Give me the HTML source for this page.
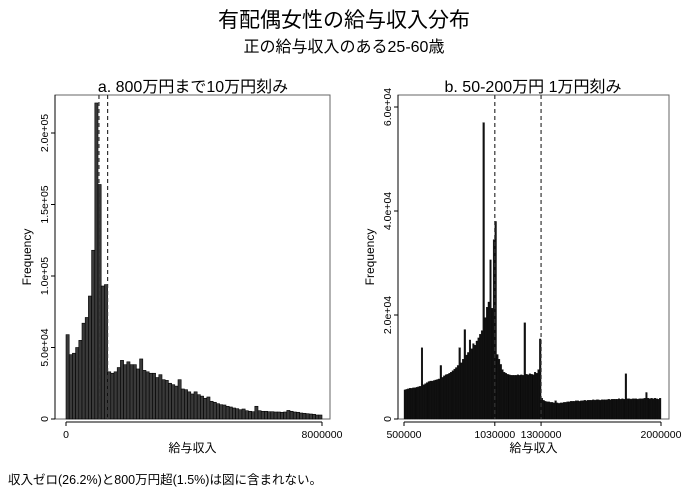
<!DOCTYPE html>
<html><head><meta charset="utf-8"><style>
body{margin:0;background:#fff;}
svg text{font-family:"Liberation Sans","Noto Sans CJK JP",sans-serif;fill:#000;}
</style></head><body>
<svg width="688" height="495" xmlns="http://www.w3.org/2000/svg">
<rect width="688" height="495" fill="#fff"/>
<text x="344" y="27" font-size="21" text-anchor="middle">有配偶女性の給与収入分布</text>
<text x="344" y="52" font-size="16" text-anchor="middle">正の給与収入のある25-60歳</text>
<text x="193" y="92" font-size="16" text-anchor="middle">a. 800万円まで10万円刻み</text>
<text x="533" y="92" font-size="16" text-anchor="middle">b. 50-200万円 1万円刻み</text>
<text x="8" y="484" font-size="12.5">収入ゼロ(26.2%)と800万円超(1.5%)は図に含まれない。</text>
<g id="left"></g>
<g id="right"></g>
</svg>
<script>
const leftValues=[59,45,46,50,55,67,71,86,118,221,164,93,94,33,32,33,36,41,38,40,38,38,35,42,34,33,32,32,29,31,27.5,27,25,24,23,27.5,21,20.5,19,17.5,19,17,16,14.5,15.4,12.4,11.7,10.7,10,9.8,8.9,8.4,7.7,7.2,6.5,7,5.8,5.4,5.1,8.9,5.8,5.4,5.4,5.1,5.1,4.9,4.9,4.7,4.9,6,5.4,4.9,4.7,4.2,4,3.7,3.5,3.3,2.8,2.8];
const leftTicks=[0,50000,100000,150000,200000];
const leftTickLabels=["0","5.0e+04","1.0e+05","1.5e+05","2.0e+05"];
const leftXTicks=[0,8000000];
const leftDashes=[1030000,1300000];
const rightValues=[5.6,5.7,5.8,5.9,5.9,6.0,6.0,6.1,6.2,6.3,13.7,6.6,6.8,7.0,7.2,7.3,7.3,7.4,7.5,7.6,7.7,10.3,8.0,8.3,8.5,8.6,8.8,9.0,9.3,9.6,9.9,10.3,13.7,10.8,11.5,17.2,12.3,12.8,15.2,13.5,14.5,14.2,15,15.6,16.3,17,57,19.5,21.5,22.5,30.6,21.3,34.5,38,12.4,11.5,10.5,9.5,9.0,8.8,8.6,8.5,8.4,8.4,8.4,8.4,8.5,8.4,8.5,8.4,18.5,8.6,8.5,8.7,8.6,8.5,9.0,8.8,9.5,15.4,4.0,3.6,3.4,3.3,3.3,3.2,3.2,3.1,3.5,3.1,3.0,3.1,3.1,3.2,3.2,3.3,3.3,3.4,3.4,3.4,3.5,3.5,3.4,3.5,3.5,3.6,3.5,3.6,3.6,3.6,3.7,3.6,3.7,3.7,3.6,3.7,3.7,3.7,3.7,3.8,3.7,3.8,3.8,3.8,3.8,3.9,3.8,3.9,3.8,8.7,3.9,3.9,3.8,3.9,3.9,3.9,3.8,3.9,3.9,3.9,4.0,5.1,4.0,3.9,4.0,3.9,4.0,3.9,3.8,4.0];
const rightTicks=[0,20000,40000,60000];
const rightTickLabels=["0","2.0e+04","4.0e+04","6.0e+04"];
const rightXTicks=[500000,1030000,1300000,2000000];
const rightDashes=[1030000,1300000];
const NS="http://www.w3.org/2000/svg";
function mk(p,t,a){const e=document.createElementNS(NS,t);for(const k in a)e.setAttribute(k,a[k]);p.appendChild(e);return e;}
function panel(g,o){
  const fr=mk(g,'rect',{x:o.fl,y:95,width:o.fr-o.fl,height:o.bottom-95,fill:'none',stroke:'#666','stroke-width':1});
  
  
  const xs=v=>o.x0+(v-o.v0)*o.xk, ys=v=>o.bottom-v*o.yk;
  o.vals.forEach((v,i)=>{
    const xa=xs(o.v0+i*o.bw), xb=xs(o.v0+(i+1)*o.bw), h=v*o.mult;
    const r=mk(g,'rect',{x:xa,y:ys(h),width:xb-xa,height:o.bottom-ys(h),fill:o.fill,stroke:'#000','stroke-width':o.sw});
    
    
  });
  o.dashes.forEach(d=>{
    const l=mk(g,'line',{x1:xs(d),x2:xs(d),y1:95,y2:o.bottom,stroke:'#333','stroke-width':1.2,'stroke-dasharray':'4,3'});
    
    
  });
  const ax=mk(g,'line',{x1:o.fl,x2:o.fl,y1:95,y2:o.bottom,stroke:'#000'});
  
  
  o.yt.forEach((t,i)=>{
    const y=ys(t);
    mk(g,'line',{x1:o.fl-4,x2:o.fl,y1:y,y2:y,stroke:'#000'});
    const tx=mk(g,'text',{x:o.fl-7,y:y,'font-size':10.5,'text-anchor':'middle',transform:`rotate(-90 ${o.fl-7} ${y})`});
    
    
    tx.textContent=o.ytl[i];
  });
  const xa=mk(g,'line',{x1:xs(o.xt[0]),x2:xs(o.xt[o.xt.length-1]),y1:o.bottom+3,y2:o.bottom+3,stroke:'#000'});
  
  
  o.xt.forEach(t=>{
    const x=xs(t);
    mk(g,'line',{x1:x,x2:x,y1:o.bottom+3,y2:o.bottom+7,stroke:'#000'});
    const tx=mk(g,'text',{x:x,y:o.bottom+19,'font-size':10.5,'text-anchor':'middle'});
    
    
    tx.textContent=String(t);
  });
  const xt=mk(g,'text',{x:(o.fl+o.fr)/2,y:452,'font-size':12,'text-anchor':'middle'});
  
  
  xt.textContent='給与収入';
  const yt=mk(g,'text',{x:o.fl-24,y:257,'font-size':12,'text-anchor':'middle',transform:`rotate(-90 ${o.fl-24} 257)`});
  
  
  yt.textContent='Frequency';
}
panel(document.getElementById('left'),{fl:55,fr:330,bottom:419,x0:66,v0:0,xk:256/8000000,yk:143/100000,bw:100000,mult:1000,vals:leftValues,fill:'#3a3a3a',sw:0.6,dashes:leftDashes,yt:leftTicks,ytl:leftTickLabels,xt:leftXTicks});
panel(document.getElementById('right'),{fl:398,fr:669,bottom:419,x0:404,v0:500000,xk:257/1500000,yk:104/20000,bw:10000,mult:1000,vals:rightValues,fill:'#111',sw:0.3,dashes:rightDashes,yt:rightTicks,ytl:rightTickLabels,xt:rightXTicks});
</script>
</body></html>
